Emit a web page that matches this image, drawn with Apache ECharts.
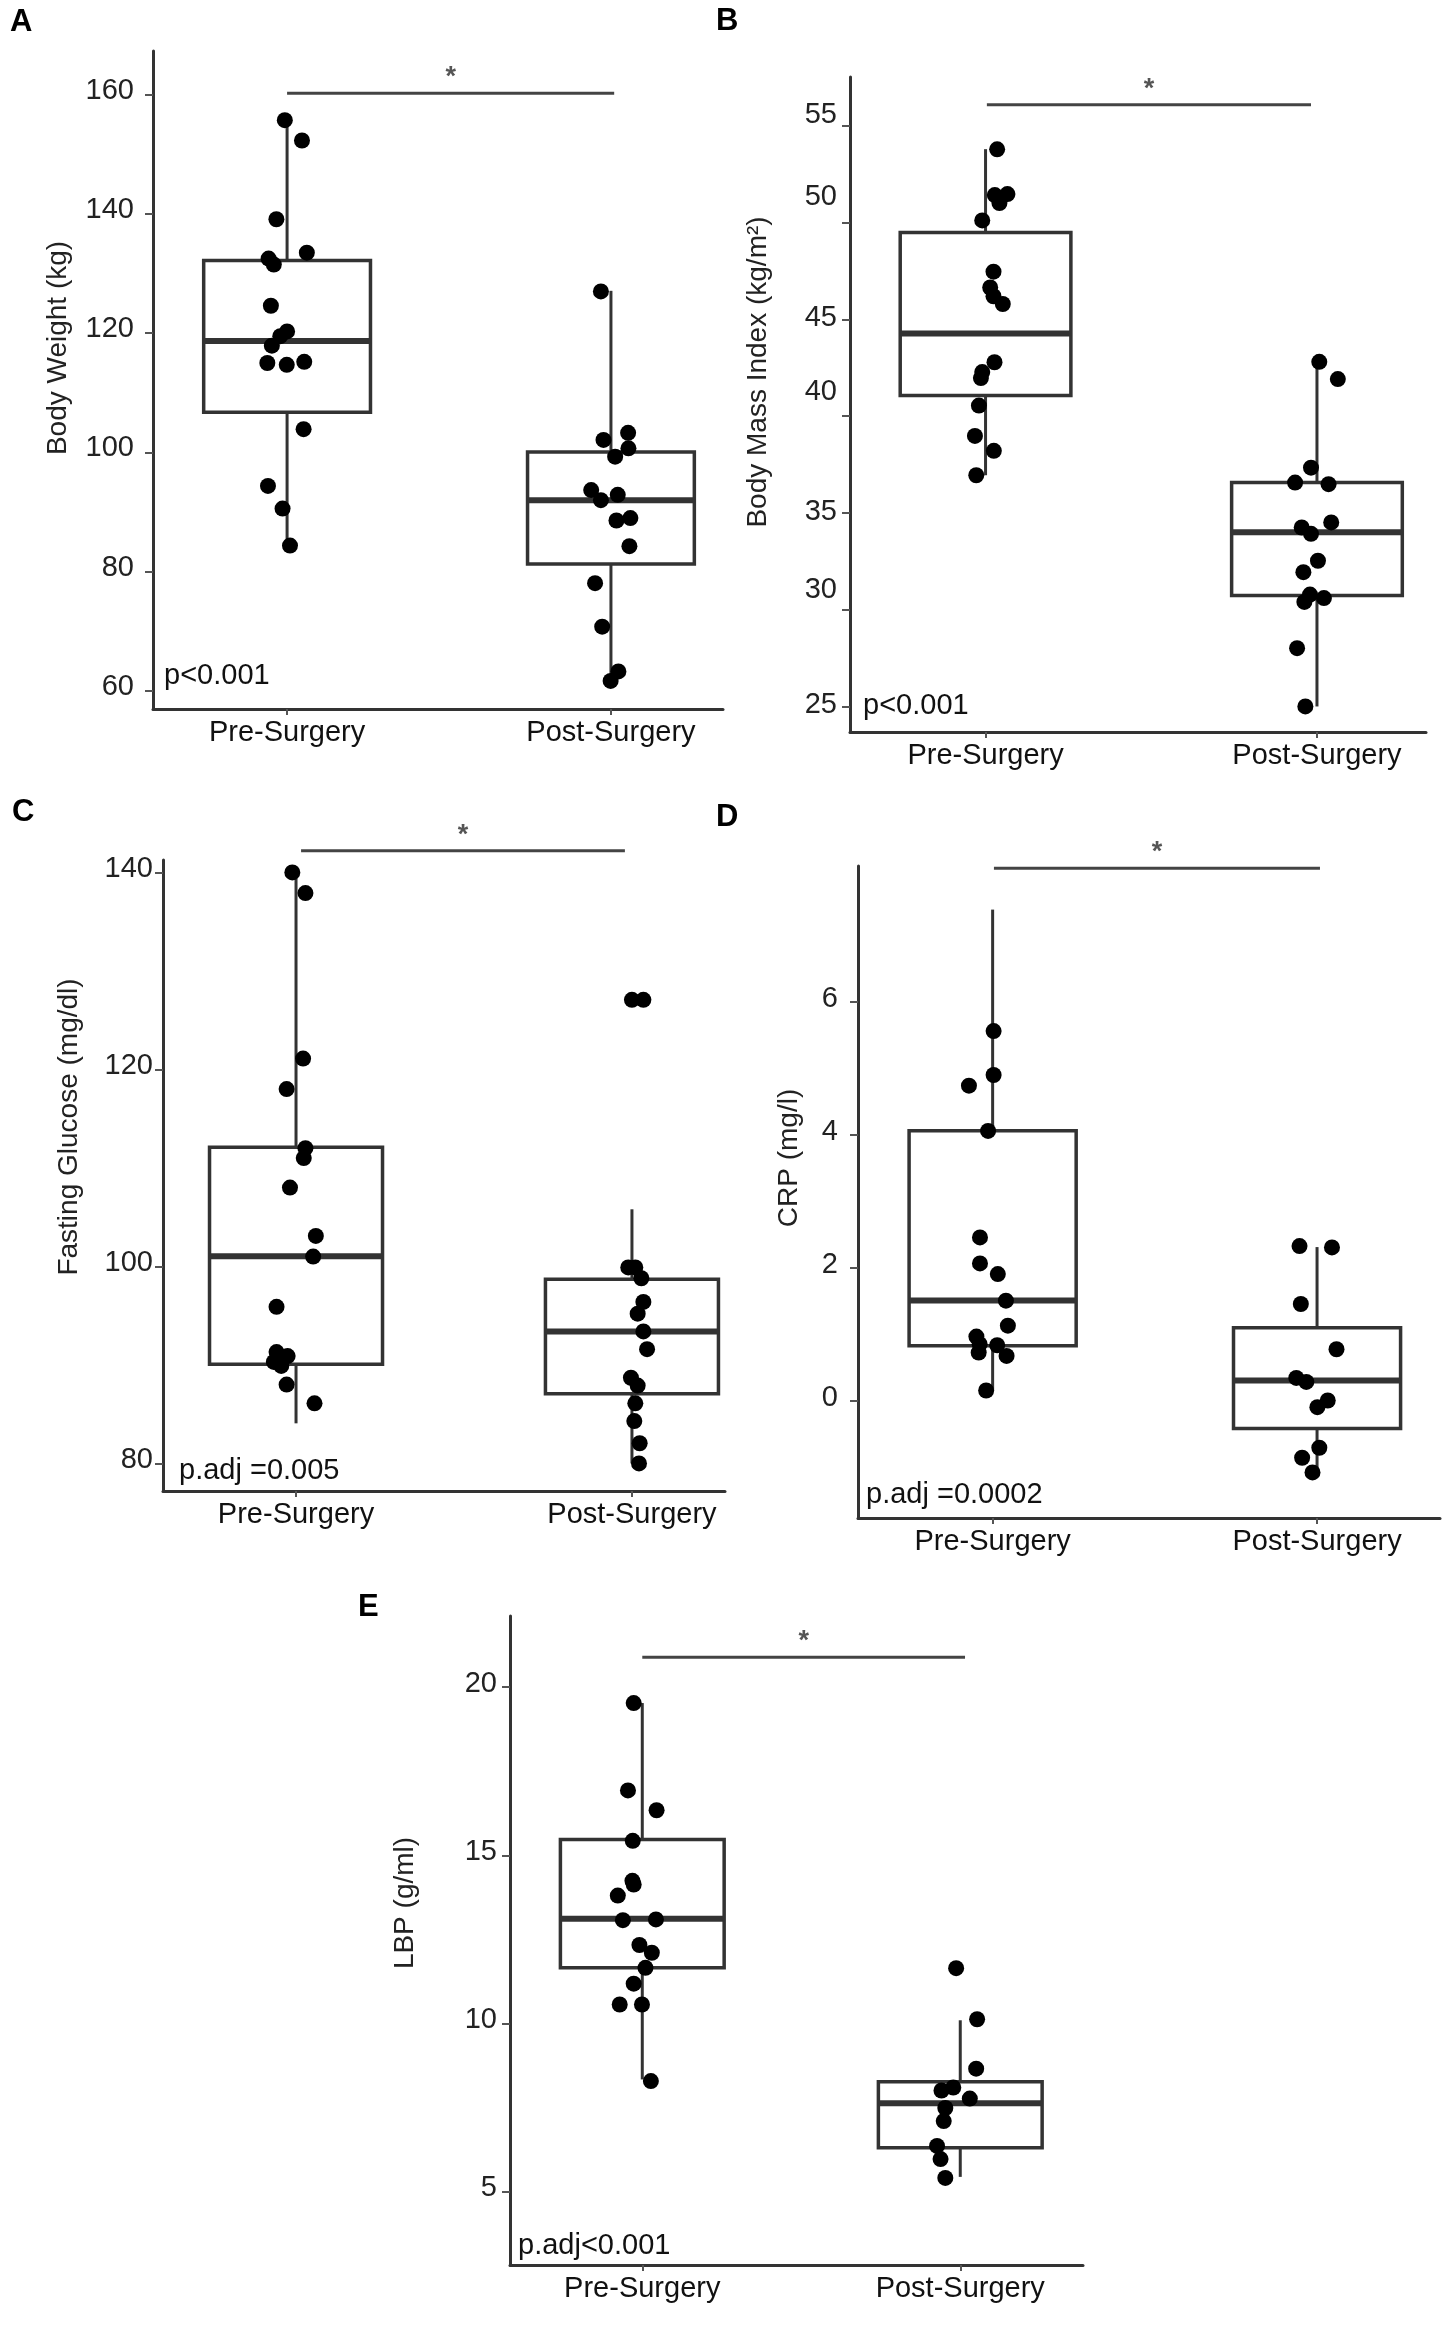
<!DOCTYPE html>
<html>
<head>
<meta charset="UTF-8">
<title>Pre vs Post Surgery</title>
<script src="https://cdn.jsdelivr.net/npm/echarts@6/dist/echarts.min.js"></script>
<style>
html, body { margin: 0; padding: 0; background: #fff; }
#chart { width: 1453px; height: 2326px; }
</style>
</head>
<body>
<div id="chart"></div>
<script>
// categories
var categories = ['Pre-Surgery', 'Post-Surgery'];

// A: body weight (kg)
var weightPre = [155.7, 152.3, 139.1, 132.5, 131.5, 133.5, 124.6, 120.3, 119.5, 117.9, 115.0, 114.7, 115.2, 103.9, 94.4, 90.6, 84.4];
var weightPreJit = [-0.007, 0.046, -0.033, -0.057, -0.041, 0.061, -0.05, 0, -0.021, -0.047, -0.061, -0.001, 0.053, 0.051, -0.059, -0.014, 0.009];
var weightPost = [127.0, 102.1, 103.3, 100.7, 99.3, 93.7, 92.0, 92.9, 88.6, 89.0, 84.3, 78.1, 70.8, 63.3, 61.7];
var weightPostJit = [-0.031, -0.023, 0.053, 0.054, 0.013, -0.061, -0.031, 0.021, 0.017, 0.06, 0.057, -0.049, -0.027, 0.023, -0.001];
var weightBox = [[84.4, 106.75, 118.7, 132.2, 155.5], [61.6, 81.3, 92.0, 100.1, 127.1]];
var weightTicks = [60, 80, 100, 120, 140, 160];

// B: BMI
var bmiPre = [53.79, 51.43, 51.48, 51.02, 50.12, 47.47, 46.65, 46.2, 45.8, 42.79, 42.28, 41.97, 40.55, 38.98, 38.21, 36.95];
var bmiPreJit = [0.035, 0.028, 0.066, 0.042, -0.01, 0.024, 0.014, 0.024, 0.052, 0.027, -0.01, -0.014, -0.02, -0.032, 0.025, -0.028];
var bmiPost = [42.81, 41.92, 37.34, 36.57, 36.49, 34.51, 34.25, 33.92, 32.53, 31.94, 30.78, 30.6, 30.4, 28.01, 25.0];
var bmiPostJit = [0.007, 0.063, -0.018, -0.066, 0.035, 0.043, -0.046, -0.018, 0.003, -0.041, -0.021, 0.021, -0.038, -0.06, -0.035];
var bmiBox = [[36.95, 41.07, 44.28, 49.5, 53.8], [25.0, 30.73, 34.0, 36.57, 42.87]];
var bmiTicks = [25, 30, 35, 40, 45, 50, 55];

// C: fasting glucose
var glucosePre = [140, 137.9, 121.1, 118.0, 112.0, 111.0, 108.0, 103.1, 101.0, 95.9, 91.3, 90.9, 90.3, 89.9, 88.0, 86.1];
var glucosePreJit = [-0.011, 0.028, 0.021, -0.028, 0.028, 0.023, -0.018, 0.059, 0.051, -0.058, -0.058, -0.025, -0.066, -0.044, -0.028, 0.055];
var glucosePost = [127.06, 127.06, 99.9, 99.9, 98.8, 96.4, 95.2, 93.4, 91.6, 88.7, 87.9, 86.1, 84.3, 82.05, 80.0];
var glucosePostJit = [0, 0.034, -0.011, 0.01, 0.028, 0.034, 0.017, 0.034, 0.045, -0.003, 0.017, 0.01, 0.007, 0.023, 0.021];
var glucoseBox = [[84.07, 90.07, 101.04, 112.1, 140], [80, 87.07, 93.4, 98.7, 105.8]];
var glucoseTicks = [80, 100, 120, 140];

// D: CRP
var crpPre = [5.56, 4.90, 4.74, 4.06, 2.46, 2.07, 1.91, 1.51, 1.135, 0.97, 0.855, 0.84, 0.73, 0.68, 0.16];
var crpPreJit = [0.003, 0.003, -0.073, -0.014, -0.039, -0.039, 0.016, 0.041, 0.047, -0.05, -0.04, 0.014, -0.043, 0.043, -0.02];
var crpPost = [2.33, 2.31, 1.46, 0.78, 0.35, 0.29, 0.01, -0.09, -0.70, -0.85, -1.07];
var crpPostJit = [-0.054, 0.046, -0.05, 0.06, -0.064, -0.033, 0.033, 0.001, 0.007, -0.046, -0.014];
var crpBox = [[0.159, 0.832, 1.513, 4.063, 7.385], [-1.074, -0.409, 0.31, 1.105, 2.315]];
var crpTicks = [0, 2, 4, 6];

// E: LBP
var lbpPre = [19.53, 16.93, 16.34, 15.43, 14.24, 14.13, 13.80, 13.07, 13.09, 12.33, 12.10, 11.65, 11.18, 10.56, 10.56, 8.28];
var lbpPreJit = [-0.027, -0.045, 0.045, -0.03, -0.031, -0.027, -0.077, -0.061, 0.043, -0.009, 0.03, 0.01, -0.027, -0.071, -0.001, 0.027];
var lbpPost = [11.64, 10.12, 8.65, 8.0, 8.09, 7.76, 7.48, 7.09, 6.35, 5.96, 5.40];
var lbpPostJit = [-0.013, 0.053, 0.05, -0.059, -0.022, 0.03, -0.047, -0.052, -0.073, -0.062, -0.047];
var lbpBox = [[8.33, 11.65, 13.11, 15.47, 19.53], [5.43, 6.30, 7.62, 8.26, 10.09]];
var lbpTicks = [5, 10, 15, 20];

// significance brackets [from, to, level]
var sigA = [1, 2.01, 160.2];
var sigB = [1.004, 1.982, 56.1];
var sigC = [1.015, 1.979, 142.2];
var sigD = [1.004, 2.009, 8.005];
var sigE = [1.0, 2.015, 20.89];

var FONT = "'Liberation Sans', Arial, Helvetica, sans-serif";
var INK = '#333';
var BOX_W = 0.515;

var panels = [
    {letter: 'A', lx: 10, ly: 23, title: 'Body Weight (kg)', tx: 58, ty: 348, p: 'p<0.001', px: 164, py: 676,
     grid: {left: 153, top: 51, width: 570, height: 658}, xr: [0.586, 2.346], yr: [57.0, 167.3], lm: 19, up: 4,
     pre: weightPre, preJit: weightPreJit, post: weightPost, postJit: weightPostJit, box: weightBox, ticks: weightTicks, sig: sigA},
    {letter: 'B', lx: 716, ly: 22, title: 'Body Mass Index (kg/m\u00b2)', tx: 758, ty: 372, p: 'p<0.001', px: 863, py: 706,
     grid: {left: 850, top: 77, width: 576, height: 655}, xr: [0.591, 2.329], yr: [23.68, 57.53], lm: 13, up: 1,
     shift: {55: 11, 50: 26, 40: 24, 30: 20},
     pre: bmiPre, preJit: bmiPreJit, post: bmiPost, postJit: bmiPostJit, box: bmiBox, ticks: bmiTicks, sig: sigB},
    {letter: 'C', lx: 12, ly: 813, title: 'Fasting Glucose (mg/dl)', tx: 69, ty: 1127, p: 'p.adj =0.005', px: 179, py: 1471,
     grid: {left: 163, top: 860, width: 562, height: 631}, xr: [0.604, 2.277], yr: [77.2, 141.26], lm: 10, up: 3,
     pre: glucosePre, preJit: glucosePreJit, post: glucosePost, postJit: glucosePostJit, box: glucoseBox, ticks: glucoseTicks, sig: sigC},
    {letter: 'D', lx: 716, ly: 818, title: 'CRP (mg/l)', tx: 789, ty: 1158, p: 'p.adj =0.0002', px: 866, py: 1495,
     grid: {left: 858, top: 866, width: 582, height: 652}, xr: [0.585, 2.379], yr: [-1.755, 8.04], lm: 20, up: 3,
     pre: crpPre, preJit: crpPreJit, post: crpPost, postJit: crpPostJit, box: crpBox, ticks: crpTicks, sig: sigD},
    {letter: 'E', lx: 358, ly: 1608, title: 'LBP (g/ml)', tx: 405, ty: 1903, p: 'p.adj<0.001', px: 518, py: 2246,
     grid: {left: 510, top: 1616, width: 573, height: 649}, xr: [0.584, 2.386], yr: [2.808, 22.12], lm: 13, up: 3,
     pre: lbpPre, preJit: lbpPreJit, post: lbpPost, postJit: lbpPostJit, box: lbpBox, ticks: lbpTicks, sig: sigE}
];

function renderBox(params, api) {
    var x = api.value(0);
    var lo = api.coord([x, api.value(1)]);
    var q1 = api.coord([x, api.value(2)]);
    var md = api.coord([x, api.value(3)]);
    var q3 = api.coord([x, api.value(4)]);
    var hi = api.coord([x, api.value(5)]);
    var half = api.size([BOX_W, 0])[0] / 2;
    var st = {stroke: INK, lineWidth: 3, fill: null};
    return {
        type: 'group',
        children: [
            {type: 'line', shape: {x1: lo[0], y1: lo[1], x2: q1[0], y2: q1[1]}, style: st},
            {type: 'line', shape: {x1: q3[0], y1: q3[1], x2: hi[0], y2: hi[1]}, style: st},
            {type: 'rect', shape: {x: q3[0] - half, y: q3[1], width: half * 2, height: q1[1] - q3[1]},
             style: {stroke: INK, lineWidth: 3.5, fill: '#fff'}},
            {type: 'line', shape: {x1: md[0] - half, y1: md[1], x2: md[0] + half, y2: md[1]},
             style: {stroke: INK, lineWidth: 6}}
        ]
    };
}

function renderSig(params, api) {
    var a = api.coord([api.value(0), api.value(2)]);
    var b = api.coord([api.value(1), api.value(2)]);
    return {
        type: 'group',
        children: [
            {type: 'line', shape: {x1: a[0], y1: a[1], x2: b[0], y2: b[1]}, style: {stroke: '#444', lineWidth: 3}},
            {type: 'text', x: (a[0] + b[0]) / 2, y: a[1] - 2,
             style: {text: '*', fill: '#555', font: 'bold 27px ' + FONT, align: 'center', verticalAlign: 'bottom'}}
        ]
    };
}

var grids = [], xAxes = [], yAxes = [], series = [], graphics = [];

panels.forEach(function (p, i) {
    grids.push(p.grid);
    xAxes.push({
        type: 'value', gridIndex: i, min: p.xr[0], max: p.xr[1],
        splitLine: {show: false},
        axisLine: {show: true, onZero: false, lineStyle: {color: INK, width: 3}},
        axisTick: {show: true, length: 6, customValues: [1, 2], lineStyle: {color: '#555', width: 2}},
        axisLabel: {customValues: [1, 2], margin: 9, color: '#111', fontSize: 29, fontFamily: FONT,
                    formatter: function (v) { return categories[Math.round(v) - 1]; }}
    });
    // per-label upward nudge, as in the reference artwork
    var upOf = function (v) { return (p.shift && p.shift[v]) || p.up; };
    var rich = {};
    p.ticks.forEach(function (v) {
        rich['s' + upOf(v)] = {fontSize: 29, fontFamily: FONT, color: '#222', padding: [0, 0, upOf(v) * 2, 0]};
    });
    yAxes.push({
        type: 'value', gridIndex: i, min: p.yr[0], max: p.yr[1],
        splitLine: {show: false},
        axisLine: {show: true, onZero: false, lineStyle: {color: INK, width: 3}},
        axisTick: {show: true, length: 8, customValues: p.ticks, lineStyle: {color: '#555', width: 2}},
        axisLabel: {customValues: p.ticks, margin: p.lm, color: '#222', fontSize: 29, fontFamily: FONT, rich: rich,
                    formatter: function (v) { return '{s' + upOf(v) + '|' + v + '}'; }}
    });
    series.push({
        type: 'custom', xAxisIndex: i, yAxisIndex: i, renderItem: renderBox,
        encode: {x: 0, y: [1, 2, 3, 4, 5]}, z: 2,
        data: p.box.map(function (b, k) { return [k + 1].concat(b); })
    });
    series.push({
        type: 'scatter', xAxisIndex: i, yAxisIndex: i, symbolSize: 16, z: 3,
        itemStyle: {color: '#000', opacity: 1},
        data: p.pre.map(function (v, k) { return [1 + p.preJit[k], v]; })
            .concat(p.post.map(function (v, k) { return [2 + p.postJit[k], v]; }))
    });
    series.push({
        type: 'custom', xAxisIndex: i, yAxisIndex: i, renderItem: renderSig,
        encode: {x: [0, 1], y: 2}, z: 4, data: [p.sig]
    });
    graphics.push({type: 'text', left: p.lx, top: p.ly - 16,
                   style: {text: p.letter, font: 'bold 31px ' + FONT, fill: '#000'}});
    graphics.push({type: 'text', x: p.tx, y: p.ty, rotation: Math.PI / 2,
                   style: {text: p.title, font: '28px ' + FONT, fill: '#222', align: 'center', verticalAlign: 'middle'}});
    graphics.push({type: 'text', x: p.px, y: p.py,
                   style: {text: p.p, font: '29px ' + FONT, fill: '#111', align: 'left', verticalAlign: 'middle'}});
});

var chart = echarts.init(document.getElementById('chart'), null, {renderer: 'canvas'});
chart.setOption({
    backgroundColor: '#fff',
    animation: false,
    grid: grids,
    xAxis: xAxes,
    yAxis: yAxes,
    series: series,
    graphic: graphics
});
</script>
</body>
</html>
